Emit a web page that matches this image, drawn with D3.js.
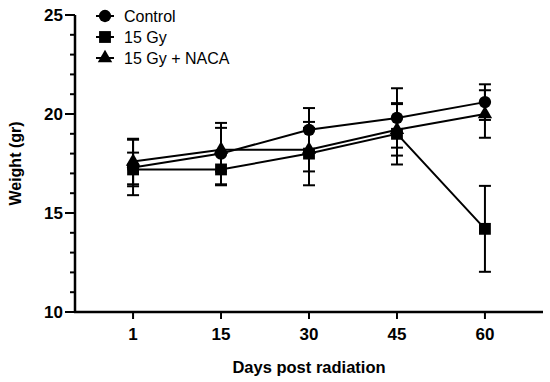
<!DOCTYPE html>
<html>
<head>
<meta charset="utf-8">
<script src="https://cdn.jsdelivr.net/npm/d3@7"></script>
<style>
  body { margin: 0; background: #fff; }
  text { font-family: "Liberation Sans", Arial, sans-serif; }
</style>
</head>
<body>
<svg id="chart" width="550" height="382"></svg>
<script>
var days = ["1", "15", "30", "45", "60"];
var yTicks = [10, 15, 20, 25];

var controlMean = [17.3, 18.0, 19.2, 19.8, 20.6];
var controlErr  = [1.4, 1.55, 1.1, 1.5, 0.9];
var gyMean      = [17.2, 17.2, 18.0, 19.0, 14.2];
var gyErr       = [0.85, 0.8, 1.6, 1.55, 2.17];
var nacaMean    = [17.6, 18.2, 18.2, 19.2, 20.0];
var nacaErr     = [1.15, 1.1, 1.1, 1.3, 1.2];

var seriesNames = ["Control", "15 Gy", "15 Gy + NACA"];

var series = [
  {name: seriesNames[2], mean: nacaMean, err: nacaErr, sym: d3.symbolTriangle, size: 90},
  {name: seriesNames[1], mean: gyMean, err: gyErr, sym: d3.symbolSquare, size: 140},
  {name: seriesNames[0], mean: controlMean, err: controlErr, sym: d3.symbolCircle, size: 120}
];

var svg = d3.select("#chart");
// note: "top" is taken by window.top, so plotTop etc.
var plotLeft = 75, plotRight = 543, plotTop = 15, plotBottom = 312;

var x = d3.scalePoint().domain(days).range([plotLeft, plotRight]).padding(0.66);
var y = d3.scaleLinear().domain([10, 25]).range([plotBottom, plotTop]);

// lines
var line = d3.line()
  .x(function (d, i) { return x(days[i]); })
  .y(function (d) { return y(d); });

series.forEach(function (s) {
  svg.append("path")
    .attr("d", line(s.mean))
    .attr("fill", "none")
    .attr("stroke", "#000")
    .attr("stroke-width", 2);
});

// error bars
var cap = 6;
series.forEach(function (s) {
  s.mean.forEach(function (m, i) {
    var cx = x(days[i]);
    var hi = y(m + s.err[i]), lo = y(m - s.err[i]);
    var g = svg.append("g").attr("stroke", "#000").attr("stroke-width", 2);
    g.append("line").attr("x1", cx).attr("x2", cx).attr("y1", hi).attr("y2", lo);
    g.append("line").attr("x1", cx - cap).attr("x2", cx + cap).attr("y1", hi).attr("y2", hi);
    g.append("line").attr("x1", cx - cap).attr("x2", cx + cap).attr("y1", lo).attr("y2", lo);
  });
});

// markers
series.forEach(function (s) {
  svg.selectAll(null)
    .data(s.mean)
    .enter().append("path")
    .attr("d", d3.symbol().type(s.sym).size(s.size))
    .attr("transform", function (d, i) { return "translate(" + x(days[i]) + "," + y(d) + ")"; })
    .attr("fill", "#000");
});

// y axis with minor ticks
var yAxis = svg.append("g").attr("transform", "translate(" + plotLeft + ",0)");
yAxis.append("line").attr("x1", 0).attr("x2", 0).attr("y1", plotTop).attr("y2", plotBottom + 1)
  .attr("stroke", "#000").attr("stroke-width", 2.5);
d3.range(10, 25.01, 1).forEach(function (v) {
  var major = v % 5 === 0;
  yAxis.append("line").attr("x1", major ? -10 : -5).attr("x2", 0)
    .attr("y1", y(v)).attr("y2", y(v))
    .attr("stroke", "#000").attr("stroke-width", 2);
});
yAxis.selectAll(".ylab").data(yTicks).enter().append("text")
  .attr("x", -12).attr("y", function (d) { return y(d); })
  .attr("dy", "0.36em")
  .attr("text-anchor", "end")
  .attr("font-size", "17px").attr("font-weight", "bold")
  .text(function (d) { return d; });

// x axis
var xAxis = svg.append("g").attr("transform", "translate(0," + plotBottom + ")");
xAxis.append("line").attr("x1", plotLeft - 1).attr("x2", plotRight).attr("y1", 0).attr("y2", 0)
  .attr("stroke", "#000").attr("stroke-width", 2.5);
days.forEach(function (d) {
  xAxis.append("line").attr("x1", x(d)).attr("x2", x(d)).attr("y1", 0).attr("y2", 7)
    .attr("stroke", "#000").attr("stroke-width", 2);
  xAxis.append("text").attr("x", x(d)).attr("y", 28)
    .attr("text-anchor", "middle")
    .attr("font-size", "17px").attr("font-weight", "bold")
    .text(d);
});

// titles
svg.append("text")
  .attr("x", 309).attr("y", 373)
  .attr("text-anchor", "middle")
  .attr("font-size", "16.5px").attr("font-weight", "bold")
  .text("Days post radiation");
svg.append("text")
  .attr("transform", "translate(21," + (plotTop + plotBottom) / 2 + ") rotate(-90)")
  .attr("text-anchor", "middle")
  .attr("font-size", "16px").attr("font-weight", "bold")
  .text("Weight (gr)");

// legend
var legend = [series[2], series[1], series[0]];
legend.forEach(function (s, i) {
  var ly = 16 + i * 21;
  svg.append("line").attr("x1", 96).attr("x2", 114).attr("y1", ly).attr("y2", ly)
    .attr("stroke", "#000").attr("stroke-width", 2);
  svg.append("path")
    .attr("d", d3.symbol().type(s.sym).size(s.size))
    .attr("transform", "translate(105," + ly + ")")
    .attr("fill", "#000");
  svg.append("text").attr("x", 124).attr("y", ly).attr("dy", "0.36em")
    .attr("font-size", "16px")
    .text(s.name);
});
</script>
</body>
</html>
